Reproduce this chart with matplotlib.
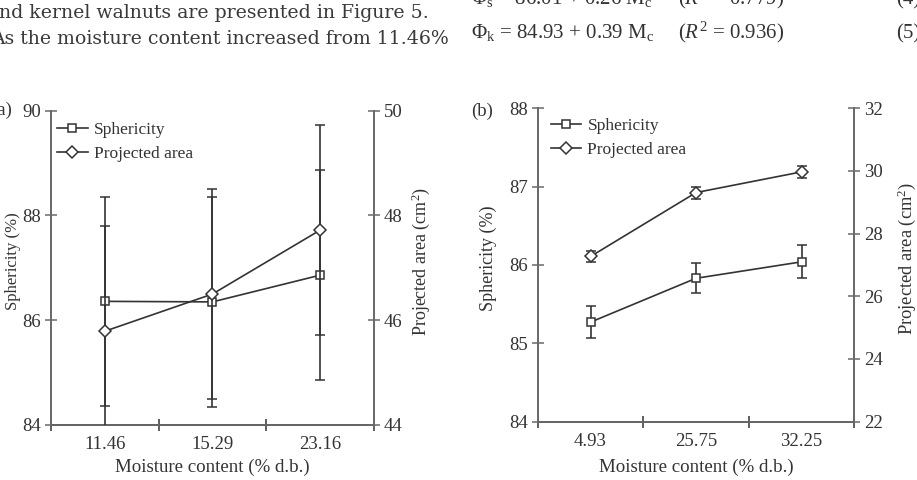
import numpy as np
import matplotlib
matplotlib.use('Agg')
import matplotlib.pyplot as plt
from matplotlib.lines import Line2D

plt.rcParams.update({'font.family': 'Liberation Serif',
                     'mathtext.fontset': 'custom',
                     'mathtext.rm': 'Liberation Serif',
                     'mathtext.it': 'Liberation Serif:italic'})

# panel (a) data
mc_a = ['11.46', '15.29', '23.16']
sph_a = [86.36, 86.35, 86.86]
sph_a_err = [2.0, 2.0, 2.0]
area_a = [45.79, 46.50, 47.72]
area_a_err = [2.0, 2.0, 2.0]

# panel (b) data
mc_b = ['4.93', '25.75', '32.25']
sph_b = [85.27, 85.83, 86.04]
sph_b_err = [0.20, 0.19, 0.21]
area_b = [27.27, 29.31, 29.97]
area_b_err = [0.17, 0.19, 0.18]

line_col = '#333333'
spine_col = '#6a6a6a'
tick_fs = 13.5
lab_fs = 13.6
leg_fs = 12.5

fig = plt.figure(figsize=(9.17, 4.8), dpi=100)

# page text above the figure (pixel coordinates, y from bottom)
body = dict(transform=None, fontsize=13.6, color='#3a3a3a', va='baseline', family='DejaVu Serif')
fig.text(-1, 480 - 18, 'nd kernel walnuts are presented in Figure 5.', **body)
fig.text(-9, 480 - 44, 'As the moisture content increased from 11.46%', **body)
eq = dict(transform=None, fontsize=15, color='#333333', va='baseline')
fig.text(471, 480 - 4, r'$\Phi_{\rm s}$ = 86.01 + 0.26 M$_{\rm c}$', **eq)
fig.text(678, 480 - 4, r'($R^2$ = 0.779)', **eq)
fig.text(896, 480 - 4, '(4)', **eq)
fig.text(471, 480 - 38, r'$\Phi_{\rm k}$ = 84.93 + 0.39 M$_{\rm c}$', **eq)
fig.text(678, 480 - 38, r'($R^2$ = 0.936)', **eq)
fig.text(896, 480 - 38, '(5)', **eq)


def make_panel(rect, cats, sph, sph_err, area, area_err, ylim1, yt1, ylim2, yt2,
               tag, tag_xy, leg_xy, xlab_y, ylab_x, ylab_fs, y2lab_x, y2lab_fs):
    ax = fig.add_axes(rect)
    ax2 = ax.twinx()
    x = np.arange(len(cats)) + 0.5

    ax.errorbar(x, sph, yerr=sph_err, color=line_col, lw=1.2, marker='s', ms=6,
                mfc='white', mec=line_col, mew=1.1, capsize=3.6, elinewidth=1.2, zorder=3)
    ax2.errorbar(x, area, yerr=area_err, color=line_col, lw=1.2, marker='D', ms=6.5,
                 mfc='white', mec=line_col, mew=1.1, capsize=3.6, elinewidth=1.2, zorder=3)

    ax.set_xlim(0, len(cats))
    ax.set_xticks([0, 1, 2, 3], minor=False)
    ax.set_xticklabels([])
    ax.set_xticks(x, minor=True)
    ax.set_xticklabels(cats, minor=True)
    ax.tick_params(axis='x', which='minor', length=0, pad=8, labelsize=tick_fs, colors=line_col)
    ax.tick_params(axis='x', which='major', direction='inout', length=8, width=1.1, color=line_col)

    ax.set_ylim(*ylim1)
    ax.set_yticks(yt1)
    ax2.set_ylim(*ylim2)
    ax2.set_yticks(yt2)
    for a in (ax, ax2):
        a.tick_params(axis='y', direction='inout', length=8, width=1.1, labelsize=tick_fs,
                      color=spine_col, labelcolor=line_col, pad=3)
        for s in a.spines.values():
            s.set_color(spine_col)
            s.set_linewidth(1.3)
        a.spines['top'].set_visible(False)
    ax.spines['bottom'].set_color(line_col)

    ax.set_xlabel('Moisture content (% d.b.)', fontsize=lab_fs, color=line_col)
    ax.xaxis.set_label_coords(0.5, xlab_y)
    ax.set_ylabel('Sphericity (%)', fontsize=ylab_fs, color=line_col)
    ax.yaxis.set_label_coords(ylab_x, 0.52)
    ax2.set_ylabel('Projected area (cm$^2$)', fontsize=y2lab_fs, color=line_col)
    ax2.yaxis.set_label_coords(y2lab_x, 0.52)

    handles = [Line2D([], [], color=line_col, lw=1.2, marker='s', ms=6, mfc='white',
                      mec=line_col, mew=1.1),
               Line2D([], [], color=line_col, lw=1.2, marker='D', ms=6.5, mfc='white',
                      mec=line_col, mew=1.1)]
    leg = ax2.legend(handles, ['Sphericity', 'Projected area'], loc='upper left',
                     frameon=False, fontsize=leg_fs, handlelength=1.75, handletextpad=0.35,
                     borderaxespad=0, borderpad=0, labelspacing=0.45,
                     bbox_to_anchor=leg_xy)
    for t in leg.get_texts():
        t.set_color(line_col)
    fig.text(tag_xy[0], 480 - tag_xy[1], tag, transform=None, fontsize=tick_fs,
             color=line_col, va='center')
    return ax, ax2


make_panel([0.0556, 0.1146, 0.3522, 0.6548], mc_a, sph_a, sph_a_err, area_a, area_a_err,
           (84, 90), [84, 86, 88, 90], (44, 50), [44, 46, 48, 50],
           '(a)', (-9, 110), (0.019, 0.965), -0.108, -0.094, 12, 1.11, 13)
make_panel([0.5864, 0.1215, 0.3453, 0.653], mc_b, sph_b, sph_b_err, area_b, area_b_err,
           (84, 88), [84, 85, 86, 87, 88], (22, 32), [22, 24, 26, 28, 30, 32],
           '(b)', (471, 111), (0.042, 0.97), -0.119, -0.128, 13, 1.129, 13.3)

fig.savefig('out.png', dpi=100)
